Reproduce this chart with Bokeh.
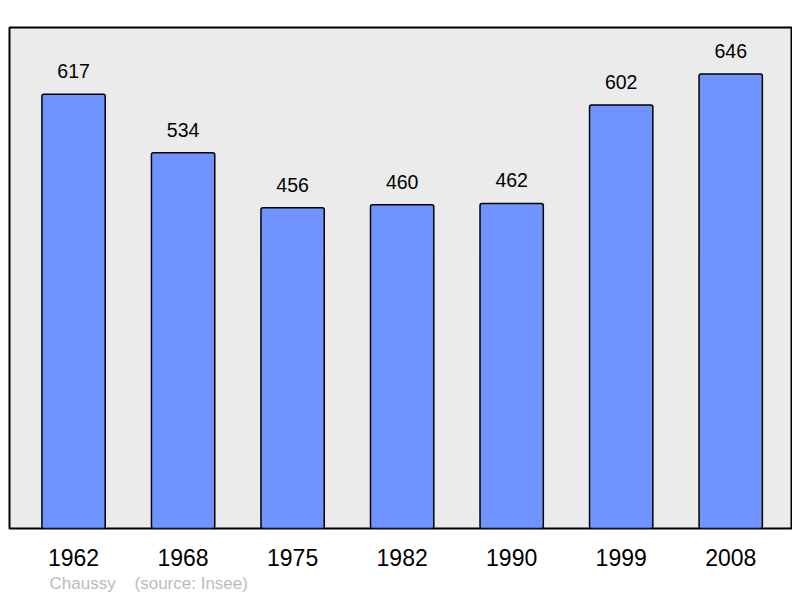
from bokeh.plotting import figure
from bokeh.models import ColumnDataSource, Range1d, Title, FixedTicker
from bokeh.core.properties import value
from bokeh.embed import file_html
from bokeh.resources import INLINE

years = ["1962", "1968", "1975", "1982", "1990", "1999", "2008"]
population = [617, 534, 456, 460, 462, 602, 646]
footer = "Chaussy\u00a0\u00a0\u00a0\u00a0(source: Insee)"

xs = list(range(len(years)))
src = ColumnDataSource(dict(x=xs, y=population, lbl=[str(v) for v in population]))

p = figure(width=792, height=596, output_backend="svg", toolbar_location=None,
           x_range=Range1d(-0.585, 6.555), y_range=Range1d(0, 712),
           min_border_left=9, min_border_right=1, min_border_top=27, min_border_bottom=0)
p.background_fill_color = "#ebebeb"
p.border_fill_color = "white"
p.outline_line_color = "black"
p.outline_line_width = 2
p.grid.visible = False
p.yaxis.visible = False

p.vbar(x="x", top="y", width=0.578, bottom=0, source=src,
       fill_color="#7094ff", line_color="black", line_width=1.5, border_radius=2)
p.text(x="x", y="y", text="lbl", source=src, y_offset=-23,
       text_align="center", text_baseline="alphabetic",
       text_font=value("Liberation Sans"), text_font_size="19.5px", text_color="black")

ax = p.xaxis[0]
ax.ticker = FixedTicker(ticks=xs)
ax.major_label_overrides = {i: y for i, y in enumerate(years)}
ax.axis_line_color = None
ax.major_tick_line_color = None
ax.minor_tick_line_color = None
ax.major_label_text_font = "Liberation Sans"
ax.major_label_text_font_size = "23px"
ax.major_label_text_color = "black"
ax.major_label_standoff = 14

t = Title(text=footer, align="left", offset=40, text_color="#bbbbbb",
          text_font="Liberation Sans", text_font_size="17px", text_font_style="normal",
          standoff=7)
p.add_layout(t, "below")

open("out.html", "w").write(file_html(p, INLINE))
